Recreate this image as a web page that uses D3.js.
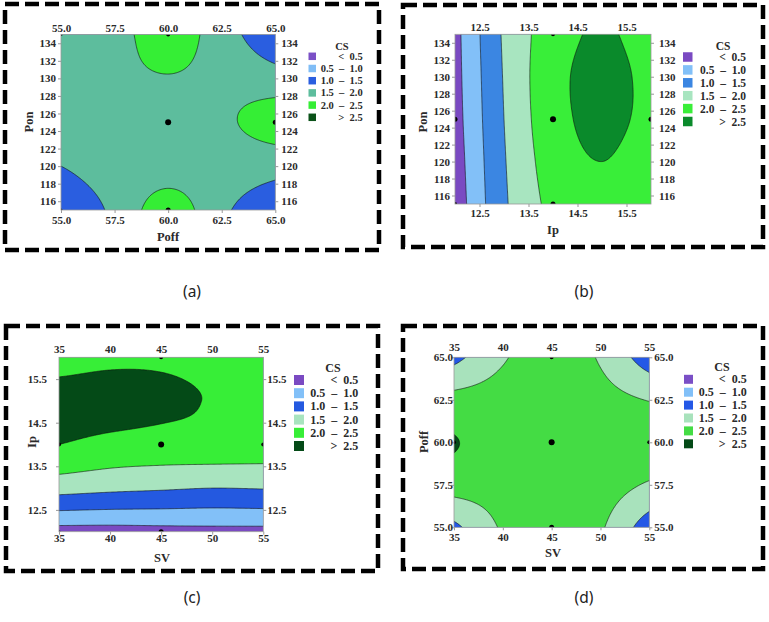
<!DOCTYPE html>
<html>
<head>
<meta charset="utf-8">
<script src="https://cdnjs.cloudflare.com/ajax/libs/d3/7.8.5/d3.min.js"></script>
<style>
  body { margin: 0; background: #fff; }
  svg { display: block; }
  .axis text { font-family: "Liberation Serif", "Times New Roman", serif; font-weight: bold; fill: #2a2a2a; }
  .axis path, .axis line { stroke: #999; }
  .title { font-family: "Liberation Serif", serif; font-weight: bold; font-size: 12.5px; fill: #2a2a2a; }
  .leg { font-family: "Liberation Serif", serif; font-weight: bold; fill: #2a2a2a; white-space: pre; }
  .cap { font-family: "Noto Sans", "Liberation Sans", sans-serif; font-size: 15.5px; fill: #222; }
</style>
</head>
<body>
<svg id="fig" width="769" height="622"></svg>
<script>
  // CS classes used by every legend
  const levels = [0.5, 1.0, 1.5, 2.0, 2.5];
  const legendText = ['<  0.5', '0.5  \u2013  1.0', '1.0  \u2013  1.5', '1.5  \u2013  2.0', '2.0  \u2013  2.5', '>  2.5'];

  // fill colours of the six classes, one list per panel
  const colorsA = ['#7b50c6', '#80bdf6', '#2a5ee0', '#5dbd9d', '#35ee35', '#0b5219'];
  const colorsB = ['#7a4ac2', '#82c0f8', '#3b86e2', '#a8e5c0', '#39ee39', '#0a8a2b'];
  const colorsC = ['#7a4ac2', '#82c0f8', '#2459e0', '#a8e4bf', '#37ee37', '#044a17'];
  const colorsD = ['#7a4fc6', '#82c0f8', '#2458e6', '#a8e2bc', '#44dc44', '#044a17'];

  // CS on a 5 x 5 lattice of each panel
  // rows: top of the y axis down to the bottom; columns: left to right
  const csA = [
    [1.65, 1.85, 2.20, 1.76, 1.00],
    [1.70, 1.88, 1.98, 1.88, 1.72],
    [1.75, 1.75, 1.80, 1.93, 2.20],
    [1.50, 1.70, 1.80, 1.75, 1.68],
    [1.10, 1.60, 2.25, 1.60, 1.10]
  ];
  const csB = [
    [0.35, 1.56, 2.25, 2.56, 2.25],
    [0.33, 1.53, 2.32, 2.66, 2.35],
    [0.30, 1.50, 2.30, 2.63, 2.35],
    [0.25, 1.46, 2.22, 2.50, 2.20],
    [0.20, 1.42, 2.12, 2.30, 2.05]
  ];
  const csC = [
    [2.25, 2.38, 2.42, 2.35, 2.20],
    [2.72, 2.72, 2.60, 2.47, 2.30],
    [2.50, 2.35, 2.30, 2.30, 2.25],
    [1.68, 1.60, 1.55, 1.50, 1.52],
    [0.30, 0.30, 0.33, 0.35, 0.35]
  ];
  const csD = [
    [1.35, 1.95, 2.20, 1.95, 1.20],
    [2.15, 2.20, 2.30, 2.15, 1.98],
    [2.52, 2.35, 2.30, 2.30, 2.25],
    [2.20, 2.20, 2.30, 2.20, 1.95],
    [1.38, 2.05, 2.20, 2.05, 1.20]
  ];

  // axis ranges and ticks
  const xDomainA = [55, 65], yDomainA = [115, 135];
  const xDomainB = [12, 16], yDomainB = [115, 135];
  const xDomainC = [35, 55], yDomainC = [12, 16];
  const xDomainD = [35, 55], yDomainD = [55, 65];
  const xTicksA = [55, 57.5, 60, 62.5, 65];
  const yTicksA = [116, 118, 120, 122, 124, 126, 128, 130, 132, 134];
  const xTicksB = [12.5, 13.5, 14.5, 15.5];
  const yTicksB = [116, 118, 120, 122, 124, 126, 128, 130, 132, 134];
  const xTicksC = [35, 40, 45, 50, 55];
  const yTicksC = [12.5, 13.5, 14.5, 15.5];
  const xTicksD = [35, 40, 45, 50, 55];
  const yTicksD = [55, 57.5, 60, 62.5, 65];

  // design points marked in the plots [x, y, radius]
  const dotsA = [[60, 125, 3], [60, 135, 2], [60, 115, 2.5], [65, 125, 2.5], [55, 115, 1.5], [55, 135, 1.5]];
  const dotsB = [[14, 125, 3], [12, 125, 2.5], [16, 125, 2.5], [14, 135, 2], [14, 115, 2.5], [12, 115, 2]];
  const dotsC = [[45, 14, 3], [35, 14, 2], [55, 14, 2], [45, 16, 2], [45, 12, 2.5], [35, 12, 1.5]];
  const dotsD = [[45, 60, 3], [35, 60, 2], [55, 60, 2], [45, 65, 2], [45, 55, 2.5]];

  const svg = d3.select('#fig');
  const nodes = [-1, -0.5, 0, 0.5, 1];

  // Catmull-Rom weights of the five lattice values at coded position t
  function weights(t) {
    let i = Math.floor((t + 1) / 0.5);
    i = Math.max(0, Math.min(3, i));
    const s = (t - nodes[i]) / 0.5, s2 = s * s, s3 = s2 * s;
    const c = [(-s3 + 2 * s2 - s) / 2, (3 * s3 - 5 * s2 + 2) / 2, (-3 * s3 + 4 * s2 + s) / 2, (s3 - s2) / 2];
    const w = [0, 0, 0, 0, 0];
    [i - 1, i, i + 1, i + 2].forEach((k, j) => {
      if (k < 0) { w[0] += 2 * c[j]; w[1] -= c[j]; }
      else if (k > 4) { w[4] += 2 * c[j]; w[3] -= c[j]; }
      else w[k] += c[j];
    });
    return w;
  }

  function csAt(grid, u, v) {
    const wu = weights(u), wv = weights(v);
    let s = 0;
    for (let r = 0; r < 5; r++)
      for (let c = 0; c < 5; c++) s += grid[r][c] * wu[c] * wv[4 - r];
    return s;
  }

  function drawPanel(p) {
    const g = svg.append('g');
    const x = d3.scaleLinear().domain(p.xDomain).range([p.plot[0], p.plot[2]]);
    const y = d3.scaleLinear().domain(p.yDomain).range([p.plot[3], p.plot[1]]);
    const xc = (p.xDomain[0] + p.xDomain[1]) / 2, hx = (p.xDomain[1] - p.xDomain[0]) / 2;
    const yc = (p.yDomain[0] + p.yDomain[1]) / 2, hy = (p.yDomain[1] - p.yDomain[0]) / 2;

    // dashed frame
    g.append('rect')
      .attr('x', p.frame[0]).attr('y', p.frame[1])
      .attr('width', p.frame[2] - p.frame[0]).attr('height', p.frame[3] - p.frame[1])
      .attr('fill', 'none').attr('stroke', '#000')
      .attr('stroke-width', 4.5).attr('stroke-dasharray', '14 6');

    const clipId = 'clip' + p.id;
    g.append('clipPath').attr('id', clipId).append('rect')
      .attr('x', p.plot[0]).attr('y', p.plot[1])
      .attr('width', p.plot[2] - p.plot[0]).attr('height', p.plot[3] - p.plot[1]);

    const plot = g.append('g').attr('clip-path', `url(#${clipId})`);
    plot.append('rect')
      .attr('x', p.plot[0]).attr('y', p.plot[1])
      .attr('width', p.plot[2] - p.plot[0]).attr('height', p.plot[3] - p.plot[1])
      .attr('fill', p.colors[0]);

    // surface grid, a little wider than the plot so edges get clipped
    const nx = 180, ny = 150, ext = 1.04;
    const du = 2 * ext / (nx - 1), dv = 2 * ext / (ny - 1);
    const values = new Array(nx * ny);
    for (let j = 0; j < ny; j++)
      for (let i = 0; i < nx; i++)
        values[j * nx + i] = csAt(p.grid, -ext + i * du, ext - j * dv);

    const bands = d3.contours().size([nx, ny]).thresholds(levels)(values);
    const path = d3.geoPath(d3.geoTransform({
      point: function (gx, gy) {
        const u = -ext + (gx - 0.5) * du, v = ext - (gy - 0.5) * dv;
        this.stream.point(x(xc + u * hx), y(yc + v * hy));
      }
    }));

    plot.selectAll('path.band')
      .data(bands)
      .enter()
      .append('path')
      .attr('class', 'band')
      .attr('d', path)
      .attr('fill', (d, i) => p.colors[i + 1])
      .attr('stroke', '#111')
      .attr('stroke-width', 0.6);

    plot.selectAll('circle')
      .data(p.dots)
      .enter()
      .append('circle')
      .attr('cx', (d) => x(d[0]))
      .attr('cy', (d) => y(d[1]))
      .attr('r', (d) => d[2])
      .attr('fill', '#000');

    g.append('rect')
      .attr('x', p.plot[0]).attr('y', p.plot[1])
      .attr('width', p.plot[2] - p.plot[0]).attr('height', p.plot[3] - p.plot[1])
      .attr('fill', 'none').attr('stroke', '#999').attr('stroke-width', 0.8);

    // axes on all four sides
    const fs = p.fontSize;
    const axes = [
      [d3.axisBottom(x).tickValues(p.xTicks).tickFormat(p.xFmt).tickSize(3).tickPadding(p.pad[0]), `translate(0,${p.plot[3]})`],
      [d3.axisTop(x).tickValues(p.xTicks).tickFormat(p.xFmt).tickSize(0).tickPadding(p.pad[1]), `translate(0,${p.plot[1]})`],
      [d3.axisLeft(y).tickValues(p.yTicks).tickFormat(p.yFmt).tickSize(3).tickPadding(p.pad[2]), `translate(${p.plot[0]},0)`],
      [d3.axisRight(y).tickValues(p.yTicks).tickFormat(p.yFmt).tickSize(3).tickPadding(p.pad[3]), `translate(${p.plot[2]},0)`]
    ];
    axes.forEach(([ax, tr]) => {
      const a = g.append('g').attr('class', 'axis').attr('transform', tr).call(ax);
      a.select('.domain').remove();
      a.selectAll('text').style('font-size', fs + 'px');
    });

    g.append('text').attr('class', 'title')
      .attr('x', p.xTitle[0]).attr('y', p.xTitle[1])
      .attr('text-anchor', 'middle').attr('dominant-baseline', 'central')
      .text(p.xLabel);
    g.append('text').attr('class', 'title')
      .attr('transform', `translate(${p.yTitle[0]},${p.yTitle[1]}) rotate(-90)`)
      .attr('text-anchor', 'middle').attr('dominant-baseline', 'central')
      .text(p.yLabel);

    // legend
    const L = p.legend;
    g.append('text').attr('class', 'leg')
      .attr('x', L.csX).attr('y', L.csY)
      .attr('text-anchor', 'middle').style('font-size', L.fs + 'px')
      .text('CS');
    const rows = g.selectAll('g.row')
      .data(legendText)
      .enter()
      .append('g')
      .attr('transform', (d, i) => `translate(0,${L.y + i * L.step})`);
    rows.append('rect')
      .attr('x', L.x).attr('y', -L.sw / 2)
      .attr('width', L.sw).attr('height', L.sw)
      .attr('fill', (d, i) => p.colors[i]);
    rows.append('text').attr('class', 'leg')
      .attr('x', L.textX).attr('y', 0)
      .attr('text-anchor', 'end').attr('dominant-baseline', 'central')
      .style('font-size', L.fs + 'px')
      .text((d) => d);

    svg.append('text').attr('class', 'cap')
      .attr('x', p.caption[0]).attr('y', p.caption[1])
      .attr('text-anchor', 'middle')
      .text(p.captionText);
  }

  const f1 = d3.format('.1f'), fInt = d3.format('d');

  drawPanel({
    id: 'a', grid: csA, colors: colorsA, xDomain: xDomainA, yDomain: yDomainA,
    xTicks: xTicksA, yTicks: yTicksA, xFmt: f1, yFmt: fInt, dots: dotsA,
    plot: [61, 34.5, 275.3, 210], frame: [5, 4, 379, 250],
    pad: [3, 3, 2, 3], fontSize: 11,
    xLabel: 'Poff', yLabel: 'Pon', xTitle: [168, 237], yTitle: [29, 122],
    legend: { x: 308.5, y: 56.3, step: 12.2, sw: 7.5, textX: 362.7, csX: 342, csY: 49.5, fs: 10.5 },
    caption: [192, 297], captionText: '(a)'
  });

  drawPanel({
    id: 'b', grid: csB, colors: colorsB, xDomain: xDomainB, yDomain: yDomainB,
    xTicks: xTicksB, yTicks: yTicksB, xFmt: f1, yFmt: fInt, dots: dotsB,
    plot: [455, 34.3, 651, 204], frame: [403, 5, 763, 247],
    pad: [2, 3, 2, 5], fontSize: 11,
    xLabel: 'Ip', yLabel: 'Pon', xTitle: [553, 230], yTitle: [423, 122],
    legend: { x: 683, y: 57, step: 12.9, sw: 9.5, textX: 746, csX: 723, csY: 50, fs: 11.5 },
    caption: [584, 297], captionText: '(b)'
  });

  drawPanel({
    id: 'c', grid: csC, colors: colorsC, xDomain: xDomainC, yDomain: yDomainC,
    xTicks: xTicksC, yTicks: yTicksC, xFmt: fInt, yFmt: f1, dots: dotsC,
    plot: [59, 357.3, 263.3, 531.7], frame: [6, 326, 378, 571],
    pad: [0, 4, 9, 1], fontSize: 11,
    xLabel: 'SV', yLabel: 'Ip', xTitle: [162, 558], yTitle: [32, 442],
    legend: { x: 294, y: 380, step: 13.2, sw: 10, textX: 358.3, csX: 333, csY: 372, fs: 12 },
    caption: [192, 603], captionText: '(c)'
  });

  drawPanel({
    id: 'd', grid: csD, colors: colorsD, xDomain: xDomainD, yDomain: yDomainD,
    xTicks: xTicksD, yTicks: yTicksD, xFmt: fInt, yFmt: f1, dots: dotsD,
    plot: [454, 357.3, 649.3, 527.3], frame: [403, 326, 763, 569],
    pad: [3, 6, -2, 2], fontSize: 11,
    xLabel: 'SV', yLabel: 'Poff', xTitle: [553, 553], yTitle: [424, 442],
    legend: { x: 684, y: 379.3, step: 12.9, sw: 9, textX: 746.7, csX: 722, csY: 371, fs: 12 },
    caption: [584, 603], captionText: '(d)'
  });
</script>
</body>
</html>
